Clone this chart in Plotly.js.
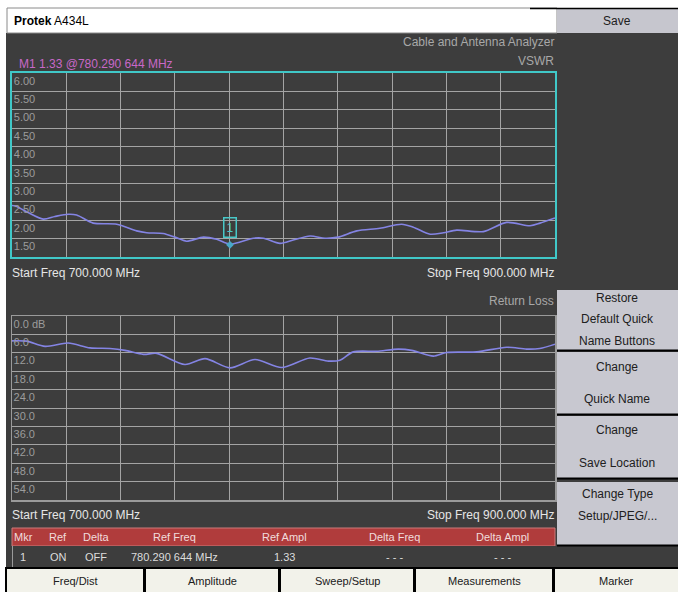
<!DOCTYPE html>
<html><head><meta charset="utf-8">
<script src="https://cdn.plot.ly/plotly-3.0.1.min.js"></script>
<style>html,body{margin:0;padding:0;background:#fff}#c{width:678px;height:592px}</style>
</head><body><div id="c"></div>
<script>
// ---- data ----
var vswrFreq = [700.0,701.1,705.4,711.5,715.8,720.7,723.8,729.9,738.6,745.9,749.6,755.7,760.0,764.3,770.5,775.4,780.3,788.9,792.6,798.7,803.6,809.8,815.3,820.1,827.0,835.5,843.5,847.8,854.0,858.9,863.8,873.6,882.2,890.8,894.5,900.0];
var vswrVals = [2.40,2.39,2.23,2.03,2.10,2.16,2.14,1.92,1.89,1.71,1.66,1.64,1.54,1.43,1.54,1.48,1.35,1.51,1.51,1.37,1.46,1.57,1.51,1.54,1.71,1.78,1.89,1.81,1.62,1.66,1.73,1.69,1.94,1.85,1.92,2.06];
var rlFreq = [700.0,705.4,712.2,720.7,728.7,736.1,741.6,748.4,753.3,763.7,771.1,780.3,789.5,799.3,809.7,816.5,820.8,825.7,834.3,842.3,847.2,855.2,860.1,871.2,882.2,889.5,894.4,900.0];
var rlVals = [8.1,8.2,9.9,8.8,10.4,10.6,11.2,12.5,12.2,15.8,13.9,16.9,14.2,16.8,13.7,14.7,14.4,11.7,11.5,10.8,11.2,13.1,11.9,11.7,10.2,10.8,10.6,9.2];
var markerFreq = [780.290644];
var markerVals = [1.33];
var vswrTicks = [1.5,2.0,2.5,3.0,3.5,4.0,4.5,5.0,5.5,6.0];
var rlTicks = [0,6,12,18,24,30,36,42,48,54];
var rlTickText = ["0.0 dB","6.0","12.0","18.0","24.0","30.0","36.0","42.0","48.0","54.0"];
var freqGrid = [700,720,740,760,780,800,820,840,860,880,900];
var tableHead = ["Mkr","Ref","Delta","Ref Freq","Ref Ampl","Delta Freq","Delta Ampl"];
var tableRow = ["1","ON","OFF","780.290 644 MHz","1.33","- - -","- - -"];
var softKeys = [["Restore","Default Quick","Name Buttons"],["Change","","Quick Name"],["Change","","Save Location"],["Change Type","Setup/JPEG/..."]];
var menuKeys = ["Freq/Dist","Amplitude","Sweep/Setup","Measurements","Marker"];

// ---- helpers ----
var W = 678, H = 592;
function px(x){return x/W;}
function py(y){return 1 - y/H;}
var FONT = "Liberation Sans, Arial, sans-serif";
var shapes = [], anns = [];
function rect(x0,y0,x1,y1,fill,lc,lw){
  shapes.push({type:'rect',xref:'paper',yref:'paper',x0:px(x0),x1:px(x1),y0:py(y1),y1:py(y0),
    fillcolor:fill,line:{color:lc||'rgba(0,0,0,0)',width:lw||0},layer:'below'});
}
function hline(x0,x1,y,c,w){
  shapes.push({type:'line',xref:'paper',yref:'paper',x0:px(x0),x1:px(x1),y0:py(y),y1:py(y),line:{color:c,width:w},layer:'above'});
}
function txt(t,x,y,col,size,anchor,bold){
  anns.push({text:bold?('<b>'+t+'</b>'):t,xref:'paper',yref:'paper',x:px(x),y:py(y),xanchor:anchor||'left',yanchor:'middle',
    showarrow:false,font:{family:FONT,size:size||12,color:col},borderpad:0});
}

// background panels
var DARK = '#3d3d3d';
rect(6,33,678,568,DARK);
// title bar
rect(7,8,557,33,'#ffffff','#8a8a8a',1);
rect(557,8,678,33,'#c6c6ce');
hline(530,678,8.5,'#000000',1.5);
txt('<b>Protek</b> A434L',13,21,'#000000',12,'left');
txt('Save',617,21,'#202020',12,'center');

// header texts
txt('Cable and Antenna Analyzer',555,42,'#a8a8a8',12,'right');
txt('VSWR',555,61,'#a8a8a8',12,'right');
txt('M1 1.33 @780.290 644 MHz',18,64,'#c868c8',12,'left');
txt('Start Freq 700.000 MHz',11,273,'#e6e6e6',12,'left');
txt('Stop Freq 900.000 MHz',555,273,'#e6e6e6',12,'right');
txt('Return Loss',555,301,'#a8a8a8',12,'right');
txt('Start Freq 700.000 MHz',11,515,'#e6e6e6',12,'left');
txt('Stop Freq 900.000 MHz',555,515,'#e6e6e6',12,'right');

// soft keys
var skY = [[290,351],[352,415],[416,479],[482,546]];
var skTextY = [[298,319,341],[367,null,399],[430,null,463],[494,516]];
for (var i=0;i<softKeys.length;i++){
  rect(557,skY[i][0],678,skY[i][1],'#c8c8d0');
  hline(557,678,skY[i][1]-0.5,'#000000',2);
  for (var j=0;j<softKeys[i].length;j++){
    if (softKeys[i][j]) txt(softKeys[i][j],617,skTextY[i][j],'#202020',12,'center');
  }
}

// marker table
rect(12,528,555,546,'#b03c3c','#cc7a7a',1);
rect(12,546,555,567,DARK);
shapes.push({type:'line',xref:'paper',yref:'paper',x0:px(12.5),x1:px(12.5),y0:py(567),y1:py(546),line:{color:'#9a9a9a',width:1},layer:'above'});
var colX = [23,58,96,175,284,394,502];
for (var k=0;k<tableHead.length;k++){
  txt(tableHead[k],colX[k],537,'#f0dcdc',11,'center');
  txt(tableRow[k],colX[k],557,'#dcdcdc',11,'center');
}

// bottom menu keys
rect(5,567,678,592,'#000000');
var mk = [[7,143],[146,278],[281,413],[416,552],[555,678]];
for (var m=0;m<menuKeys.length;m++){
  rect(mk[m][0],569,mk[m][1],592,'#f2f2ea');
  txt(menuKeys[m],(mk[m][0]+mk[m][1])/2,581,'#202020',11,'center');
}

// marker "1" box
anns.push({text:'1',xref:'x',yref:'y',x:markerFreq[0],y:markerVals[0],xanchor:'center',yanchor:'bottom',yshift:7,
  showarrow:false,font:{family:FONT,size:12,color:'#48c8c8'},bordercolor:'#48c8c8',borderwidth:1.5,borderpad:2,bgcolor:'rgba(0,0,0,0)'});

var traces = [
  {x:vswrFreq,y:vswrVals,xaxis:'x',yaxis:'y',mode:'lines',line:{color:'#8484e4',width:1.6,shape:'spline',smoothing:0.8},hoverinfo:'skip'},
  {x:markerFreq,y:markerVals,xaxis:'x',yaxis:'y',mode:'markers',marker:{symbol:'diamond',size:6,color:'#48a8c8'},hoverinfo:'skip'},
  {x:rlFreq,y:rlVals,xaxis:'x2',yaxis:'y2',mode:'lines',line:{color:'#8484e4',width:1.6,shape:'spline',smoothing:0.8},hoverinfo:'skip'}
];

var gridC = '#a4a4a4';
var layout = {
  width:W,height:H,margin:{l:0,r:0,t:0,b:0},
  paper_bgcolor:'#ffffff',plot_bgcolor:'rgba(0,0,0,0)',showlegend:false,
  font:{family:FONT},
  xaxis:{domain:[px(12),px(555)],range:[700,900],tickvals:freqGrid,showticklabels:false,ticks:'',
    showgrid:true,gridcolor:gridC,gridwidth:1,zeroline:false,showline:true,linecolor:'#40c8c8',linewidth:2,mirror:true,anchor:'y',fixedrange:true},
  yaxis:{domain:[py(257),py(73)],range:[1,6],tickvals:vswrTicks,tickformat:'.2f',ticks:'',
    ticklabelposition:'inside bottom',tickfont:{family:FONT,size:11,color:'#9c9c9c'},
    showgrid:true,gridcolor:gridC,gridwidth:1,zeroline:false,showline:true,linecolor:'#40c8c8',linewidth:2,mirror:true,anchor:'x',fixedrange:true},
  xaxis2:{domain:[px(12),px(555)],range:[700,900],tickvals:freqGrid,showticklabels:false,ticks:'',
    showgrid:true,gridcolor:gridC,gridwidth:1,zeroline:false,showline:true,linecolor:'#9a9a9a',linewidth:1.5,mirror:true,anchor:'y2',fixedrange:true},
  yaxis2:{domain:[py(500),py(316)],range:[60,0],tickvals:rlTicks,ticktext:rlTickText,ticks:'',
    ticklabelposition:'inside bottom',tickfont:{family:FONT,size:11,color:'#9c9c9c'},
    showgrid:true,gridcolor:gridC,gridwidth:1,zeroline:false,showline:true,linecolor:'#9a9a9a',linewidth:1.5,mirror:true,anchor:'x2',fixedrange:true},
  shapes:shapes,annotations:anns
};
Plotly.newPlot('c',traces,layout,{displayModeBar:false,staticPlot:true});
</script></body></html>
